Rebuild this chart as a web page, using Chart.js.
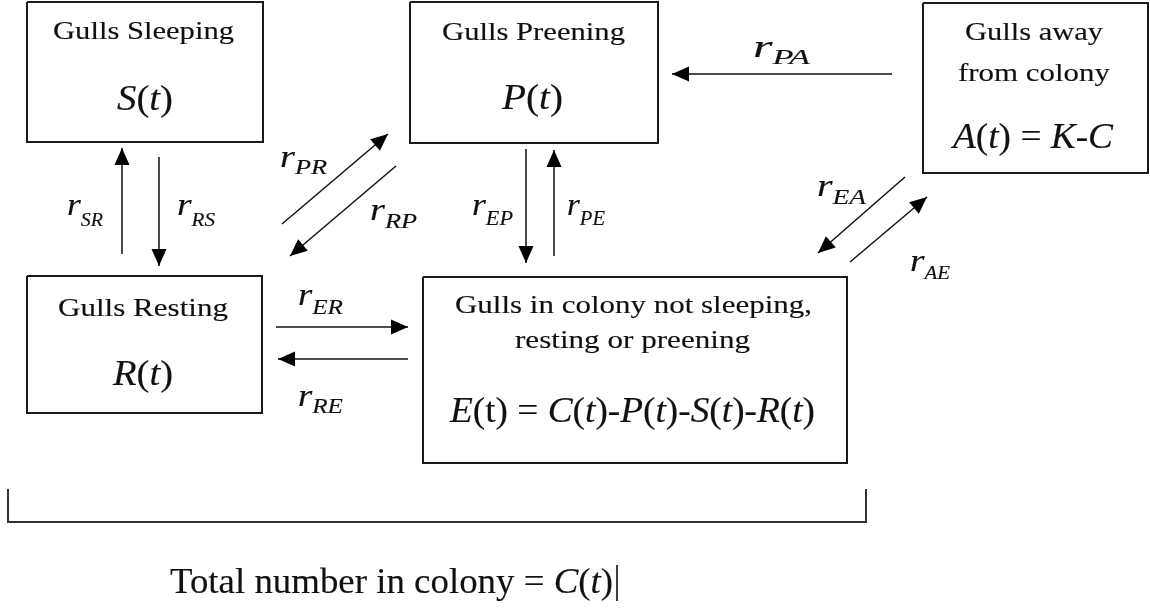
<!DOCTYPE html>
<html>
<head>
<meta charset="utf-8">
<script src="https://cdn.jsdelivr.net/npm/chart.js@4.4.1/dist/chart.umd.min.js"></script>
<style>
html,body{margin:0;padding:0;background:#fff;}
#wrap{width:1150px;height:613px;}
</style>
</head>
<body>
<div id="wrap"><canvas id="chart" width="1150" height="613"></canvas></div>
<script>
// compartments (diagram units, y grows downward)
const boxNames   = ["sleeping","preening","away","resting","colony"];
const boxLeft    = [27, 410, 923, 27, 423];
const boxTop     = [2, 2, 3, 276, 277];
const boxRight   = [263, 658, 1148, 262, 847];
const boxBottom  = [142, 143, 173, 413, 463];
const boxTitles  = [["Gulls Sleeping"], ["Gulls Preening"], ["Gulls away","from colony"],
                    ["Gulls Resting"], ["Gulls in colony not sleeping,","resting or preening"]];
const boxFormulas = ["{S}({t})", "{P}({t})", "{A}({t}) = {K}-{C}", "{R}({t})",
                     "{E}(t) = {C}({t})-{P}({t})-{S}({t})-{R}({t})"];

// transition rates: start point -> arrow tip
const rateNames  = ["SR","RS","PR","RP","EP","PE","PA","EA","AE","ER","RE"];
const arrowFromX = [122, 159, 282, 396, 526, 554, 892, 905, 850, 276, 408];
const arrowFromY = [254, 157, 224, 166, 149, 256, 74, 177, 262, 327, 359];
const arrowToX   = [122, 159, 388, 290, 526, 554, 672, 818, 927, 408, 278];
const arrowToY   = [148, 266, 134, 256, 263, 150, 74, 253, 197, 327, 359];

// bracket under the colony compartments
const bracketX = [8, 8, 866, 866];
const bracketY = [489, 522, 522, 489];
const totalLabel = "Total number in colony = {C}({t})";

// ---- layout (x0, x1, baseline, font size) ----
const titleLayout = [
  [[53,234,39,26]],
  [[442,625,40,26]],
  [[965,1103,40,26],[958,1110,81,26]],
  [[58,228,316,26]],
  [[455,812,313,26],[515,750,348,26]]
];
const formulaLayout = [[117,173,110,35],[502,563,109,35],[953,1113,148,35],[113,173,385,35],[450,815,422,35]];
const rateLayout = [
  [67,103,215,226,18],[177,215,215,226,18],[280,327,167,174,22],[370,417,220,228,22],
  [472,513,215,225,20],[567,605,215,225,20],[753,810,57,64,22],[817,866,196,204,22],
  [910,950,271,279,18],[298,343,305,314,22],[298,343,406,413,22]
];
const totalLayout = [170,613,593,36];

const FAMILY = '"Liberation Serif","Times New Roman",serif';
const INK = "#111";

function parseRuns(s, size) {
  const runs = [];
  s.split(/(\{[^}]*\})/).forEach(p => {
    if (!p) return;
    if (p[0] === "{") runs.push({t:p.slice(1,-1), it:true, size, dy:0});
    else runs.push({t:p, it:false, size, dy:0});
  });
  return runs;
}

function drawRuns(chart, runs, x0, x1, base) {
  const ctx = chart.ctx, sx = chart.scales.x, sy = chart.scales.y;
  const px0 = sx.getPixelForValue(x0), px1 = sx.getPixelForValue(x1);
  const pb = sy.getPixelForValue(base);
  let w = 0;
  runs.forEach(r => {
    ctx.font = (r.it ? "italic " : "") + r.size + "px " + FAMILY;
    r.w = ctx.measureText(r.t).width;
    w += r.w;
  });
  ctx.save();
  ctx.translate(px0, pb);
  ctx.scale((px1 - px0) / w, 1);
  ctx.fillStyle = INK;
  ctx.strokeStyle = INK;
  ctx.lineWidth = 0.15;
  ctx.textBaseline = "alphabetic";
  let cx = 0;
  runs.forEach(r => {
    ctx.font = (r.it ? "italic " : "") + r.size + "px " + FAMILY;
    ctx.fillText(r.t, cx, r.dy);
    ctx.strokeText(r.t, cx, r.dy);
    cx += r.w;
  });
  ctx.restore();
}

const diagramText = {
  id: "diagramText",
  afterDatasetsDraw(chart) {
    const ctx = chart.ctx, sx = chart.scales.x, sy = chart.scales.y;
    // arrow heads
    ctx.save();
    ctx.fillStyle = "#000";
    rateNames.forEach((n, i) => {
      const ax = sx.getPixelForValue(arrowFromX[i]), ay = sy.getPixelForValue(arrowFromY[i]);
      const bx = sx.getPixelForValue(arrowToX[i]), by = sy.getPixelForValue(arrowToY[i]);
      const a = Math.atan2(by - ay, bx - ax);
      const len = 17, half = 7.5;
      ctx.beginPath();
      ctx.moveTo(bx, by);
      ctx.lineTo(bx - len*Math.cos(a) + half*Math.sin(a), by - len*Math.sin(a) - half*Math.cos(a));
      ctx.lineTo(bx - len*Math.cos(a) - half*Math.sin(a), by - len*Math.sin(a) + half*Math.cos(a));
      ctx.closePath();
      ctx.fill();
    });
    ctx.restore();

    boxTitles.forEach((lines, i) => {
      lines.forEach((ln, j) => {
        const L = titleLayout[i][j];
        drawRuns(chart, parseRuns(ln, L[3]), L[0], L[1], L[2]);
      });
      const F = formulaLayout[i];
      drawRuns(chart, parseRuns(boxFormulas[i], F[3]), F[0], F[1], F[2]);
    });

    rateNames.forEach((n, i) => {
      const L = rateLayout[i];
      const runs = [
        {t:"r", it:true, size:32, dy:0},
        {t:n, it:true, size:L[4], dy:L[3] - L[2]}
      ];
      drawRuns(chart, runs, L[0], L[1], L[2]);
    });

    drawRuns(chart, parseRuns(totalLabel, totalLayout[3]), totalLayout[0], totalLayout[1], totalLayout[2]);
  }
};

const lineDs = (pts, width, color) => ({
  data: pts, showLine: true, fill: false, tension: 0,
  borderColor: color, borderWidth: width, pointRadius: 0, pointHoverRadius: 0,
  borderJoinStyle: "miter", borderCapStyle: "butt"
});

const datasets = [];
boxNames.forEach((n, i) => {
  datasets.push(lineDs([
    {x:boxLeft[i], y:boxTop[i]}, {x:boxRight[i], y:boxTop[i]},
    {x:boxRight[i], y:boxBottom[i]}, {x:boxLeft[i], y:boxBottom[i]},
    {x:boxLeft[i], y:boxTop[i]}
  ], 2, "#1a1a1a"));
});
rateNames.forEach((n, i) => {
  datasets.push(lineDs([
    {x:arrowFromX[i], y:arrowFromY[i]}, {x:arrowToX[i], y:arrowToY[i]}
  ], 1.5, "#111"));
});
datasets.push(lineDs(bracketX.map((x, i) => ({x, y:bracketY[i]})), 2, "#333"));
// text cursor after C(t)
datasets.push(lineDs([{x:617, y:565}, {x:617, y:601}], 1, "#222"));

new Chart(document.getElementById("chart"), {
  type: "scatter",
  data: { datasets },
  options: {
    responsive: false,
    animation: false,
    events: [],
    layout: { padding: 0 },
    plugins: { legend: { display: false }, tooltip: { enabled: false } },
    scales: {
      x: { type: "linear", min: 0, max: 1150, display: false },
      y: { type: "linear", min: 0, max: 613, reverse: true, display: false }
    }
  },
  plugins: [diagramText]
});
</script>
</body>
</html>
